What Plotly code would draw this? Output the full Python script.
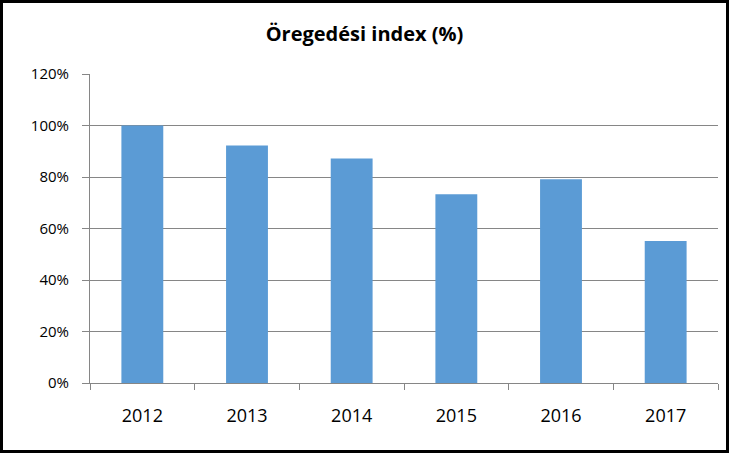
import plotly.graph_objects as go

years = ["2012", "2013", "2014", "2015", "2016", "2017"]
index_values = [100, 92.2, 87.2, 73.3, 79.1, 55.1]
y_ticks = [0, 20, 40, 60, 80, 100, 120]
y_tick_labels = [f"{v}%" for v in y_ticks]

font_family = "'Open Sans', 'Liberation Sans', sans-serif"
axis_grey = "#868686"

W, H = 729, 453
L, R, T, B = 90, 11, 74, 70
pw, ph = W - L - R, H - T - B

fig = go.Figure()

fig.add_trace(go.Bar(
    x=years,
    y=index_values,
    marker=dict(color="#5b9bd5", line=dict(width=0)),
    hovertemplate="%{x}: %{y:.1f}%<extra></extra>",
))

# border round the whole picture
fig.add_shape(
    type="rect", xref="paper", yref="paper",
    x0=-(L - 1.5) / pw, x1=1 + (R - 1.5) / pw,
    y0=-(B - 1.5) / ph, y1=1 + (T - 1.5) / ph,
    line=dict(color="black", width=3),
)

fig.update_layout(
    title=dict(
        text="<b>Öregedési index (%)</b>",
        x=0.5, xanchor="center", y=1 - 34 / H, yanchor="middle",
        font=dict(family=font_family, size=20, color="black"),
    ),
    width=W, height=H,
    margin=dict(l=L, r=R, t=T, b=B),
    paper_bgcolor="white",
    plot_bgcolor="white",
    bargap=0.6,
    showlegend=False,
    font=dict(family=font_family, size=15, color="black"),
    xaxis=dict(
        type="category",
        showline=True, linecolor=axis_grey, linewidth=1,
        ticks="outside", tickson="boundaries", ticklen=6, tickcolor=axis_grey,
        showgrid=False,
        tickfont=dict(family=font_family, size=18, color="black"),
        ticklabelstandoff=16,
    ),
    yaxis=dict(
        range=[0, 120],
        tickvals=y_ticks, ticktext=y_tick_labels,
        showline=True, linecolor=axis_grey, linewidth=1,
        ticks="outside", ticklen=7, tickcolor=axis_grey,
        showgrid=True, gridcolor=axis_grey, gridwidth=1,
        zeroline=False,
        tickfont=dict(family=font_family, size=15, color="black"),
        ticklabelstandoff=10,
    ),
)

fig.write_html(
    "out.html",
    config={"displayModeBar": False},
    post_script="document.body.style.margin='0';document.body.style.padding='0';",
)
